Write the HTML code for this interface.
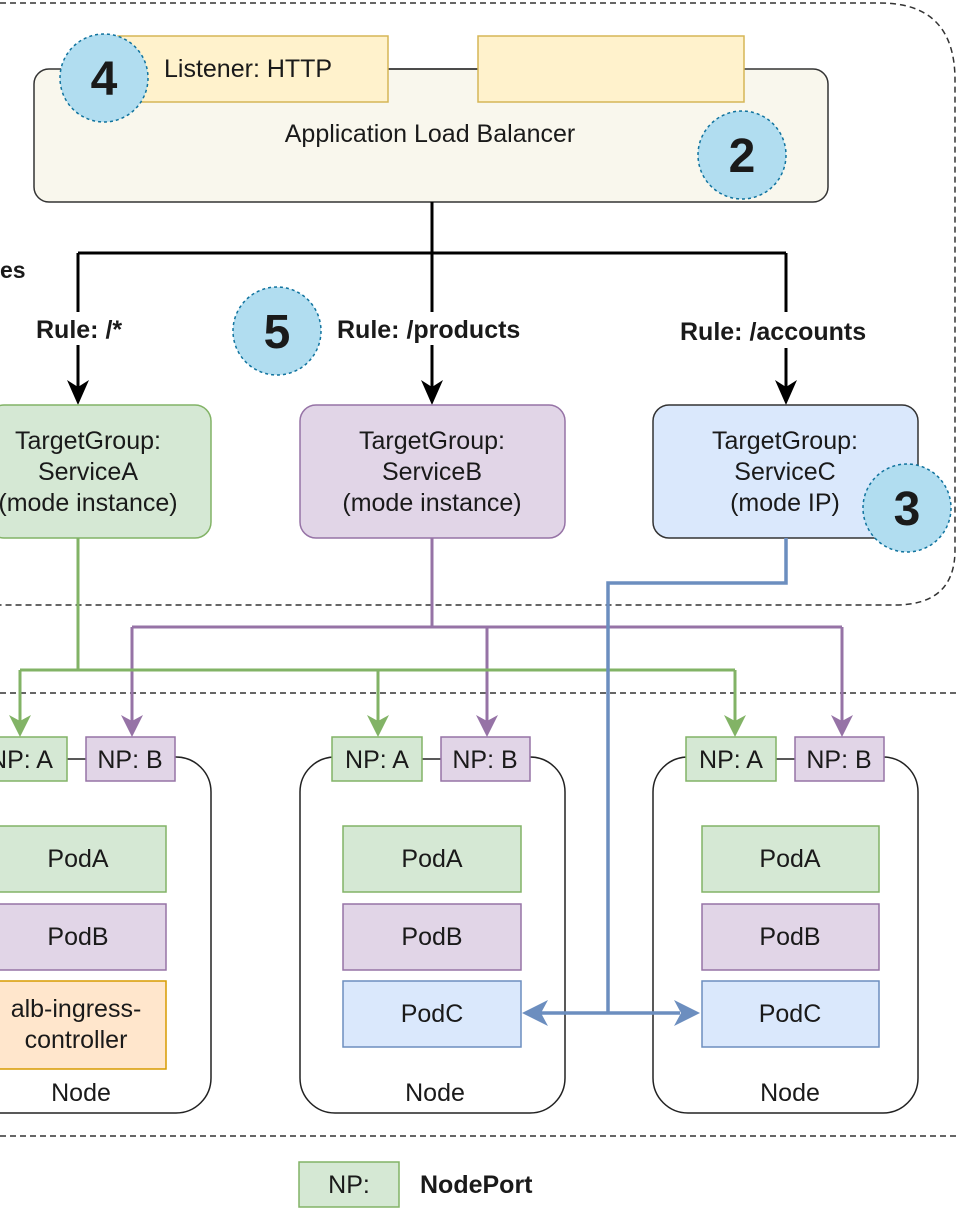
<!DOCTYPE html>
<html><head><meta charset="utf-8"><style>
html,body{margin:0;padding:0;background:#fff;width:958px;height:1225px;overflow:hidden}
svg{display:block}
text{font-family:"Liberation Sans",Arial,sans-serif;fill:#1a1a1a}
</style></head><body>
<svg width="958" height="1225" viewBox="0 0 958 1225" xmlns="http://www.w3.org/2000/svg">
<!-- top dashed region -->
<path d="M0,3 H880 Q955,3 955,80 V550 Q955,605 895,605 H0" fill="none" stroke="#333" stroke-width="1.5" stroke-dasharray="6,4"/>
<line x1="0" y1="693" x2="958" y2="693" stroke="#333" stroke-width="1.5" stroke-dasharray="6,4"/>
<line x1="0" y1="1136" x2="958" y2="1136" stroke="#333" stroke-width="1.5" stroke-dasharray="6,4"/>

<!-- ALB -->
<rect x="34" y="69" width="794" height="133" rx="15" fill="#f9f7ed" stroke="#333" stroke-width="1.5"/>
<line x1="388" y1="69" x2="478" y2="69" stroke="#333" stroke-width="1.5"/>
<rect x="118" y="36" width="270" height="66" fill="#fff2cc" stroke="#d6b656" stroke-width="1.5"/>
<rect x="478" y="36" width="266" height="66" fill="#fff2cc" stroke="#d6b656" stroke-width="1.5"/>
<text x="164" y="77" font-size="25">Listener: HTTP</text>
<text x="430" y="142" font-size="25" text-anchor="middle">Application Load Balancer</text>

<!-- black connectors -->
<g stroke="#000" stroke-width="3" fill="none">
<path d="M432,202 V253 M78,253 H786 M78,253 V312 M432,253 V312 M786,253 V312"/>
<path d="M78,345 V390"/>
<path d="M432,345 V390"/>
<path d="M786,348 V390"/>
</g>
<g fill="#000">
<path d="M67,380 L78,405 L89,380 L78,387z"/>
<path d="M421,380 L432,405 L443,380 L432,387z"/>
<path d="M775,380 L786,405 L797,380 L786,387z"/>
</g>
<text x="0" y="278" font-size="23" font-weight="bold">es</text>
<text x="36" y="338" font-size="25" font-weight="bold">Rule: /*</text>
<text x="337" y="338" font-size="25" font-weight="bold">Rule: /products</text>
<text x="680" y="340" font-size="25" font-weight="bold">Rule: /accounts</text>

<!-- Target groups -->
<rect x="-12" y="405" width="223" height="133" rx="16" fill="#d5e8d4" stroke="#82b366" stroke-width="1.5"/>
<rect x="300" y="405" width="265" height="133" rx="16" fill="#e1d5e7" stroke="#9673a6" stroke-width="1.5"/>
<rect x="653" y="405" width="265" height="133" rx="16" fill="#dae8fc" stroke="#333" stroke-width="1.5"/>
<g font-size="25" text-anchor="middle">
<text x="88" y="449">TargetGroup:</text><text x="88" y="480">ServiceA</text><text x="88" y="511">(mode instance)</text>
<text x="432" y="449">TargetGroup:</text><text x="432" y="480">ServiceB</text><text x="432" y="511">(mode instance)</text>
<text x="785" y="449">TargetGroup:</text><text x="785" y="480">ServiceC</text><text x="785" y="511">(mode IP)</text>
</g>

<!-- purple -->
<g stroke="#9673a6" stroke-width="3" fill="none">
<path d="M432,538 V627 M132,627 H842"/>
<path d="M132,627 V725"/><path d="M487,627 V725"/><path d="M842,627 V725"/>
</g>
<g fill="#9673a6">
<path d="M121,715 L132,737 L143,715 L132,721z"/><path d="M476,715 L487,737 L498,715 L487,721z"/><path d="M831,715 L842,737 L853,715 L842,721z"/>
</g>
<!-- green -->
<g stroke="#82b366" stroke-width="3" fill="none">
<path d="M78,538 V670 M20,670 H735"/>
<path d="M20,670 V725"/><path d="M378,670 V725"/><path d="M735,670 V725"/>
</g>
<g fill="#82b366">
<path d="M9,715 L20,737 L31,715 L20,721z"/><path d="M367,715 L378,737 L389,715 L378,721z"/><path d="M724,715 L735,737 L746,715 L735,721z"/>
</g>

<!-- nodes -->
<g fill="#fff" stroke="#222" stroke-width="1.5">
<rect x="-40" y="757" width="251" height="356" rx="35"/>
<rect x="300" y="757" width="265" height="356" rx="35"/>
<rect x="653" y="757" width="265" height="356" rx="35"/>
</g>
<g stroke="#fff" stroke-width="3">
<line x1="67" y1="757" x2="86" y2="757"/><line x1="422" y1="757" x2="441" y2="757"/><line x1="776" y1="757" x2="795" y2="757"/>
</g>
<g stroke="#222" stroke-width="1.5">
<line x1="67" y1="759" x2="86" y2="759"/><line x1="422" y1="759" x2="441" y2="759"/><line x1="776" y1="759" x2="795" y2="759"/>
</g>
<!-- NP boxes -->
<g stroke-width="1.5">
<rect x="-25" y="737" width="92" height="44" fill="#d5e8d4" stroke="#82b366"/>
<rect x="86" y="737" width="89" height="44" fill="#e1d5e7" stroke="#9673a6"/>
<rect x="332" y="737" width="90" height="44" fill="#d5e8d4" stroke="#82b366"/>
<rect x="441" y="737" width="89" height="44" fill="#e1d5e7" stroke="#9673a6"/>
<rect x="686" y="737" width="90" height="44" fill="#d5e8d4" stroke="#82b366"/>
<rect x="795" y="737" width="89" height="44" fill="#e1d5e7" stroke="#9673a6"/>
</g>
<g font-size="25" text-anchor="middle">
<text x="21" y="768">NP: A</text><text x="130" y="768">NP: B</text>
<text x="377" y="768">NP: A</text><text x="485" y="768">NP: B</text>
<text x="731" y="768">NP: A</text><text x="839" y="768">NP: B</text>
</g>
<!-- pods -->
<g stroke-width="1.5">
<rect x="-20" y="826" width="186" height="66" fill="#d5e8d4" stroke="#82b366"/>
<rect x="-20" y="904" width="186" height="66" fill="#e1d5e7" stroke="#9673a6"/>
<rect x="-20" y="981" width="186" height="88" fill="#ffe6cc" stroke="#d79b00"/>
<rect x="343" y="826" width="178" height="66" fill="#d5e8d4" stroke="#82b366"/>
<rect x="343" y="904" width="178" height="66" fill="#e1d5e7" stroke="#9673a6"/>
<rect x="343" y="981" width="178" height="66" fill="#dae8fc" stroke="#6c8ebf"/>
<rect x="702" y="826" width="177" height="66" fill="#d5e8d4" stroke="#82b366"/>
<rect x="702" y="904" width="177" height="66" fill="#e1d5e7" stroke="#9673a6"/>
<rect x="702" y="981" width="177" height="66" fill="#dae8fc" stroke="#6c8ebf"/>
</g>
<g font-size="25" text-anchor="middle">
<text x="78" y="867">PodA</text><text x="78" y="945">PodB</text>
<text x="76" y="1017">alb-ingress-</text><text x="76" y="1048">controller</text>
<text x="432" y="867">PodA</text><text x="432" y="945">PodB</text><text x="432" y="1022">PodC</text>
<text x="790" y="867">PodA</text><text x="790" y="945">PodB</text><text x="790" y="1022">PodC</text>
<text x="81" y="1101">Node</text><text x="435" y="1101">Node</text><text x="790" y="1101">Node</text>
</g>

<!-- blue -->
<g stroke="#6c8ebf" stroke-width="3.5" fill="none">
<path d="M786,538 V583 H608 V1013"/>
<path d="M540,1013 H680"/>
</g>
<g fill="#6c8ebf">
<path d="M522,1013 L548,1000 L541,1013 L548,1026z"/>
<path d="M700,1013 L674,1000 L681,1013 L674,1026z"/>
</g>

<!-- circles -->
<g fill="#b1ddf0" stroke="#10739e" stroke-width="1.5" stroke-dasharray="3,3">
<circle cx="104" cy="78" r="44"/><circle cx="742" cy="155" r="44"/>
<circle cx="277" cy="331" r="44"/><circle cx="907" cy="508" r="44"/>
</g>
<g font-size="48" font-weight="bold" text-anchor="middle">
<text x="104" y="95">4</text><text x="742" y="172">2</text>
<text x="277" y="348">5</text><text x="907" y="525">3</text>
</g>

<!-- legend -->
<rect x="299" y="1162" width="100" height="45" fill="#d5e8d4" stroke="#82b366" stroke-width="1.5"/>
<text x="349" y="1193" font-size="25" text-anchor="middle">NP:</text>
<text x="420" y="1193" font-size="25" font-weight="bold">NodePort</text>
</svg>
</body></html>
